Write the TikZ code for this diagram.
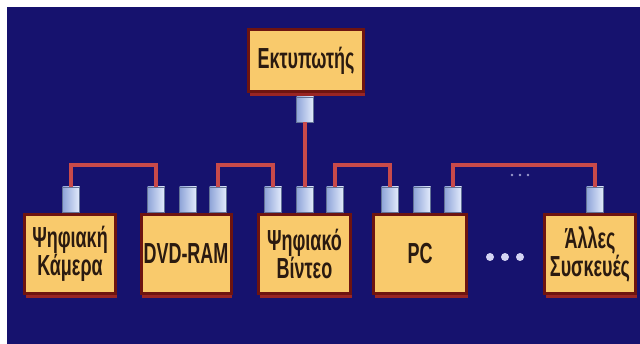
\documentclass[tikz,border=0pt]{standalone}
\usepackage{fontspec}
\newfontfamily\boxfont[FakeStretch=0.62]{Liberation Sans Bold}
\usetikzlibrary{shadows}
\definecolor{navy}{HTML}{16126E}
\definecolor{boxfill}{HTML}{F9CA6C}
\definecolor{boxborder}{HTML}{6E1410}
\definecolor{boxtext}{HTML}{2A1A10}
\definecolor{shadowred}{HTML}{A8281C}
\definecolor{connred}{HTML}{C84A4A}
\definecolor{portdark}{HTML}{8EA4D8}
\definecolor{portlight}{HTML}{E4ECFC}
\definecolor{dotc}{HTML}{D4D4F4}
\begin{document}
\begin{tikzpicture}[x=1pt,y=-1pt,
  dev/.style={draw=boxborder, line width=3pt, fill=boxfill, minimum height=79pt,
    inner sep=0pt, text=boxtext, align=center,
    font={\boxfont\fontsize{29}{28}\selectfont},
    drop shadow={fill=shadowred, shadow xshift=1pt, shadow yshift=-5pt, opacity=0.9}},
  port/.style={minimum width=17pt, minimum height=25pt, inner sep=0pt,
    left color=portdark, right color=portlight, draw=portdark!70!black, line width=0.4pt},
  conn/.style={draw=connred, line width=4pt}]
\useasboundingbox (0,0) rectangle (640,344);
\fill[white] (0,0) rectangle (640,344);
\fill[navy] (7,7) rectangle (640,344);
% devices
\node[dev, minimum width=91pt] (cam) at (70,254) {Ψηφιακή\\Κάμερα};
\node[dev, minimum width=90pt] (dvd) at (186,254) {DVD-RAM};
\node[dev, minimum width=92pt] (vid) at (304.5,254) {Ψηφιακό\\Βίντεο};
\node[dev, minimum width=93pt] (pc) at (420,254) {PC};
\node[dev, minimum width=91pt] (oth) at (590,254) {Άλλες\\Συσκευές};
\node[dev, minimum width=115pt, minimum height=62pt] (prn) at (306,60.5) {Εκτυπωτής};
% ports
\node[port] (p1) at (71,199.5) {};
\node[port] (p2) at (156,199.5) {};
\node[port] (p3) at (188,199.5) {};
\node[port] (p4) at (218,199.5) {};
\node[port] (p5) at (273,199.5) {};
\node[port] (p6) at (305,199.5) {};
\node[port] (p7) at (335,199.5) {};
\node[port] (p8) at (390,199.5) {};
\node[port] (p9) at (422,199.5) {};
\node[port] (p10) at (453,199.5) {};
\node[port] (p11) at (595,199.5) {};
\node[port] (pp) at (305,109.5) {};
% connectors
\draw[conn] (p1.north) -- ++(0,-22) -| (p2.north);
\draw[conn] (p4.north) -- ++(0,-22) -| (p5.north);
\draw[conn] (p7.north) -- ++(0,-22) -| (p8.north);
\draw[conn] (p10.north) -- ++(0,-22) -| (p11.north);
\draw[conn] (pp.south) -- (p6.north);
% ellipses
\fill[dotc!70!navy] (512,175) circle (1.3pt) (520,175) circle (1.3pt) (528,175) circle (1.3pt);
\fill[dotc] (490,257) circle (4pt) (505,257) circle (4pt) (520,257) circle (4pt);
\end{tikzpicture}
\end{document}
